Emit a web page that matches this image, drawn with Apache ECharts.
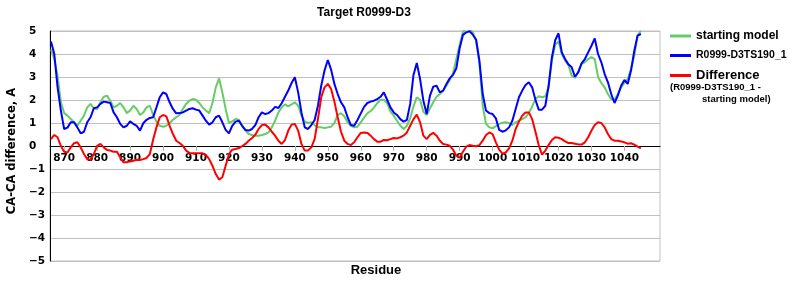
<!DOCTYPE html>
<html><head><meta charset="utf-8">
<script src="https://cdn.jsdelivr.net/npm/echarts@6/dist/echarts.min.js"></script>
<style>html,body{margin:0;padding:0;background:#fff}#c{width:800px;height:300px}</style>
</head><body><div id="c"></div>
<script>
// ---- data ----
const chartTitle = 'Target R0999-D3';
const xAxisName = 'Residue';
const yAxisName = 'CA-CA difference, A';
const seriesNames = ['starting model', 'R0999-D3TS190_1', 'Difference'];
const differenceNote = ['(R0999-D3TS190_1 -', 'starting model)'];
const firstResidue = 866;   // residues 866 .. 1045, one value per residue
const xTickValues = [870, 880, 890, 900, 910, 920, 930, 940, 950, 960, 970, 980, 990, 1000, 1010, 1020, 1030, 1040];
const yTickMin = -5, yTickMax = 5, yTickStep = 1;

const startingModel = [
 4.2,3.78,3.06,1.9,1.43,1.32,1.17,1.03,0.88,1.1,1.32,1.68,1.83,1.64,1.61,1.9,2.14,2.19,1.97,1.68,
 1.75,1.87,1.68,1.43,1.54,1.75,1.61,1.35,1.46,1.68,1.75,1.35,1.06,0.88,0.84,0.88,1.0,1.14,1.25,1.35,
 1.61,1.83,1.97,2.04,2.01,1.87,1.68,1.54,1.43,1.87,2.55,2.94,2.33,1.61,1.0,1.07,1.17,1.14,0.88,0.67,
 0.52,0.48,0.45,0.45,0.48,0.52,0.59,0.81,1.1,1.46,1.68,1.81,1.72,1.81,1.9,1.75,1.32,1.06,1.0,1.03,
 0.91,0.81,0.81,0.78,0.81,0.84,1.0,1.35,1.43,1.29,1.03,0.88,0.81,0.84,1.03,1.23,1.42,1.52,1.67,1.86,
 2.01,2.01,1.86,1.49,1.32,1.1,0.88,0.74,0.88,1.22,1.72,2.12,2.01,1.49,1.35,1.64,1.9,2.14,2.26,2.41,
 2.62,2.88,3.17,3.78,4.39,4.97,5.1,5.1,4.94,4.58,3.57,1.75,0.96,0.81,0.77,0.86,0.96,1.01,1.03,1.0,
 0.91,1.03,1.1,1.17,1.25,1.43,1.72,2.04,2.16,2.12,2.16,2.55,3.71,4.4,4.55,4.0,3.71,3.52,3.06,2.96,
 3.25,3.57,3.64,3.78,3.86,3.78,3.0,2.74,2.55,2.26,2.04,2.01,2.26,2.55,2.74,2.91,3.35,3.93,4.8,5.01
];
const modelTS190 = [
 4.54,4.0,2.55,1.54,0.74,0.8,1.03,1.03,0.81,0.55,0.62,1.03,1.25,1.64,1.68,1.83,1.93,1.9,1.87,1.46,
 1.25,0.96,0.81,0.88,1.07,0.96,0.88,0.67,0.99,1.14,1.22,1.25,1.68,2.12,2.33,2.26,1.9,1.61,1.42,1.43,
 1.46,1.54,1.61,1.64,1.58,1.54,1.32,1.1,0.93,1.03,1.25,1.32,1.03,0.7,0.55,0.88,1.06,1.1,0.88,0.7,
 0.67,0.74,0.91,1.25,1.46,1.39,1.43,1.54,1.7,1.65,1.86,2.14,2.41,2.74,2.99,2.33,1.46,0.81,0.74,0.91,
 1.13,1.75,2.62,3.28,3.74,3.32,2.7,2.26,1.9,1.68,1.25,0.91,0.88,1.13,1.42,1.7,1.87,1.93,1.97,2.04,
 2.14,2.33,2.01,1.68,1.46,1.35,1.17,1.06,1.14,1.83,3.09,3.61,2.91,1.97,1.39,2.19,2.58,2.62,2.33,2.41,
 2.7,2.94,3.09,3.38,4.25,4.83,4.94,4.99,4.84,4.62,3.71,2.26,1.54,1.43,1.39,1.2,0.7,0.62,0.68,0.81,
 1.1,1.61,2.12,2.41,2.65,2.77,2.55,2.01,1.58,1.58,1.75,2.62,3.86,4.6,4.9,4.07,3.78,3.55,3.42,3.01,
 3.2,3.59,3.78,4.07,4.36,4.68,4.0,3.64,3.13,2.77,2.26,1.87,2.19,2.62,2.87,2.7,3.28,4.14,4.8,4.87
];
const difference = [
 0.3,0.48,0.38,0.0,-0.25,-0.28,-0.06,0.12,0.16,-0.06,-0.35,-0.57,-0.6,-0.35,0.01,0.09,-0.06,-0.17,-0.2,-0.25,
 -0.25,-0.49,-0.71,-0.71,-0.67,-0.64,-0.6,-0.61,-0.57,-0.52,-0.35,0.28,0.81,1.25,1.35,1.29,0.88,0.52,0.23,0.13,
 0.01,-0.2,-0.3,-0.32,-0.32,-0.32,-0.32,-0.39,-0.57,-0.86,-1.22,-1.46,-1.36,-0.86,-0.35,-0.16,-0.13,-0.09,-0.01,0.09,
 0.23,0.35,0.49,0.74,0.91,0.93,0.81,0.62,0.45,0.23,0.09,0.26,0.67,0.93,0.96,0.67,0.09,-0.2,-0.2,-0.06,
 0.3,1.17,2.12,2.55,2.7,2.48,1.93,1.25,0.62,0.23,0.09,0.04,0.16,0.38,0.57,0.59,0.57,0.45,0.3,0.19,
 0.19,0.26,0.25,0.3,0.35,0.33,0.38,0.45,0.59,0.88,1.17,1.36,1.03,0.45,0.3,0.48,0.57,0.45,0.23,0.09,
 0.06,0.01,-0.16,-0.42,-0.5,-0.25,-0.03,0.04,0.01,-0.01,0.04,0.23,0.48,0.59,0.52,0.16,-0.16,-0.33,-0.28,-0.1,
 0.23,0.74,1.06,1.32,1.46,1.46,1.17,0.62,0.04,-0.38,-0.2,0.04,0.26,0.38,0.36,0.3,0.2,0.13,0.13,0.1,
 0.07,0.06,0.16,0.38,0.67,0.91,1.03,1.0,0.81,0.52,0.3,0.23,0.23,0.2,0.16,0.1,0.12,0.06,-0.03,-0.1
];

// ---- chart ----
const toPairs = arr => arr.map((v, i) => [firstResidue + i, v]);
const boldArial = (size) => ({fontFamily: 'Liberation Sans, Arial, sans-serif', fontWeight: 'bold', fontSize: size, color: '#000'});
const boldVerdana = (size) => ({fontFamily: 'DejaVu Sans, Verdana, sans-serif', fontWeight: 'bold', fontSize: size, color: '#000'});
const colors = ['#66cc66', '#0000ff', '#ff0000'];

function legendAt(name, top, size) {
  return {
    data: [{name: name, icon: 'rect'}], left: 670, top: top, orient: 'vertical', padding: 0,
    itemWidth: 21, itemHeight: 3, itemGap: 0, selectedMode: false,
    textStyle: boldArial(size)
  };
}

const chart = echarts.init(document.getElementById('c'), null, {renderer: 'canvas'});
chart.setOption({
  animation: false,
  backgroundColor: '#fff',
  title: [
    {text: chartTitle, left: 364, textAlign: 'center', top: 7, padding: 0, textStyle: boldArial(12)},
    {text: differenceNote[0], left: 670, top: 82, padding: 0, textStyle: boldArial(9.5)},
    {text: differenceNote[1], left: 702, top: 94, padding: 0, textStyle: boldArial(9.5)}
  ],
  legend: [
    legendAt(seriesNames[0], 30, 12),
    legendAt(seriesNames[1], 50, 10.5),
    legendAt(seriesNames[2], 69, 13)
  ],
  grid: {left: 50, right: 140, top: 31, bottom: 39, containLabel: false, outerBoundsMode: 'none',
         show: true, borderColor: '#c0c0c0', borderWidth: 1, backgroundColor: '#fff'},
  xAxis: {
    type: 'value', min: 865.7, max: 1050.8, offset: -115,
    axisLine: {show: true, onZero: false, lineStyle: {color: '#000', width: 1}},
    axisTick: {show: true, length: 5, lineStyle: {color: '#b4b4b4'}, customValues: xTickValues},
    axisLabel: {customValues: xTickValues, margin: 7, hideOverlap: false, ...boldVerdana(10.5),
                formatter: v => String(v)},
    splitLine: {show: false},
    name: xAxisName, nameLocation: 'middle', nameGap: 118,
    nameTextStyle: {...boldArial(13), padding: [0, 0, 0, 42]}
  },
  yAxis: {
    type: 'value', min: yTickMin, max: yTickMax, interval: yTickStep,
    axisLine: {show: true, lineStyle: {color: '#000', width: 1}},
    axisTick: {show: false},
    splitLine: {show: true, lineStyle: {color: '#c0c0c0', width: 1}},
    axisLabel: {align: 'left', margin: 21, ...boldVerdana(10.5),
                formatter: v => String(v).replace('-', '\u2212')},
    name: yAxisName, nameLocation: 'middle', nameGap: 28,
    nameTextStyle: {...boldVerdana(11.5), padding: [0, 10, 0, 0]}
  },
  series: [
    {name: seriesNames[0], type: 'line', data: toPairs(startingModel), symbol: 'none', clip: true,
     color: colors[0], lineStyle: {color: colors[0], width: 2}},
    {name: seriesNames[1], type: 'line', data: toPairs(modelTS190), symbol: 'none', clip: true,
     color: colors[1], lineStyle: {color: colors[1], width: 2}},
    {name: seriesNames[2], type: 'line', data: toPairs(difference), symbol: 'none', clip: true,
     color: colors[2], lineStyle: {color: colors[2], width: 2}}
  ]
});
</script>
</body></html>
